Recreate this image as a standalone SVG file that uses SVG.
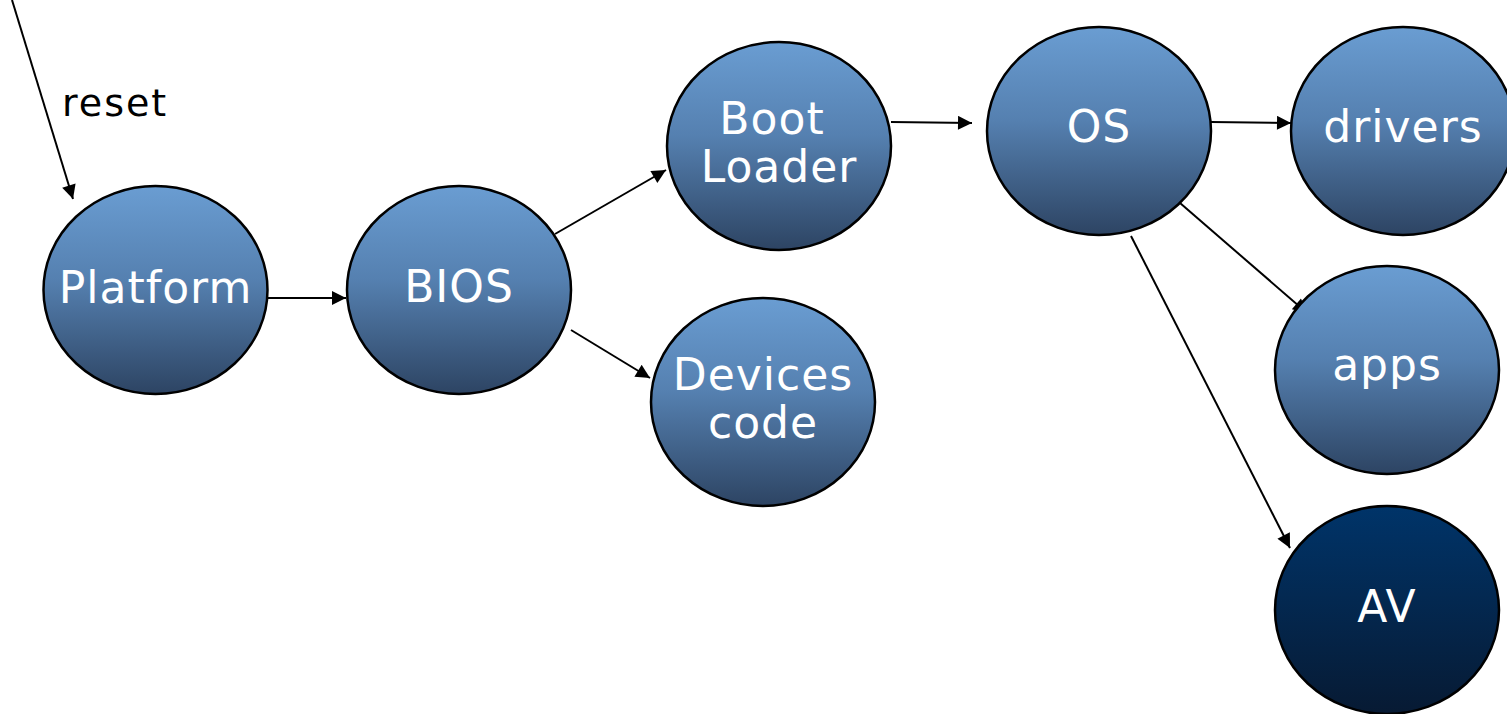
<svg xmlns="http://www.w3.org/2000/svg" width="1507" height="714" viewBox="0 0 1507 714">
  <style>
    .node { stroke: #000; stroke-width: 2.5; }
    .std { fill: url(#blueGrad); }
    .dark { fill: url(#darkGrad); }
    .label { font-family: "Comic Sans MS", "DejaVu Sans", sans-serif; font-size: 44px; letter-spacing: 1px; fill: #fff; text-anchor: middle; }
    .edge { stroke: #000; stroke-width: 2; fill: none; marker-end: url(#arrow); }
    .caption { font-family: "Comic Sans MS", "DejaVu Sans", sans-serif; font-size: 38px; letter-spacing: 2px; fill: #000; }
  </style>
  <defs>
    <linearGradient id="blueGrad" x1="0" y1="0" x2="0" y2="1">
      <stop offset="0" stop-color="#6a9dd2"/>
      <stop offset="0.45" stop-color="#5580b0"/>
      <stop offset="1" stop-color="#2d4463"/>
    </linearGradient>
    <linearGradient id="darkGrad" x1="0" y1="0" x2="0" y2="1">
      <stop offset="0" stop-color="#003469"/>
      <stop offset="1" stop-color="#071a33"/>
    </linearGradient>
    <marker id="arrow" viewBox="0 0 10 10" refX="10" refY="5" markerWidth="8" markerHeight="7" markerUnits="strokeWidth" orient="auto">
      <path d="M0,0 L10,5 L0,10 z" fill="#000"/>
    </marker>
  </defs>

  <!-- connectors -->
  <g id="connectors">
    <line class="edge" x1="12" y1="0" x2="73" y2="199"/>
    <line class="edge" x1="268" y1="298" x2="346" y2="298"/>
    <line class="edge" x1="555" y1="234" x2="666" y2="170"/>
    <line class="edge" x1="571" y1="330" x2="650" y2="378"/>
    <line class="edge" x1="891" y1="122" x2="972" y2="123"/>
    <line class="edge" x1="1211" y1="122" x2="1291" y2="123"/>
    <line class="edge" x1="1180" y1="203" x2="1307" y2="313"/>
    <line class="edge" x1="1131" y1="236" x2="1290" y2="548"/>
  </g>

  <text class="caption" x="62" y="116">reset</text>

  <g id="platform">
    <ellipse class="node std" cx="155.5" cy="290" rx="112" ry="104"/>
    <text class="label" x="155.5" y="303">Platform</text>
  </g>
  <g id="bios">
    <ellipse class="node std" cx="459" cy="290" rx="112" ry="104"/>
    <text class="label" x="459" y="302">BIOS</text>
  </g>
  <g id="bootloader">
    <ellipse class="node std" cx="779" cy="146" rx="112" ry="104"/>
    <text class="label" x="772" y="134">Boot</text>
    <text class="label" x="779" y="182">Loader</text>
  </g>
  <g id="devices">
    <ellipse class="node std" cx="763" cy="402" rx="112" ry="104"/>
    <text class="label" x="763" y="390">Devices</text>
    <text class="label" x="763" y="438">code</text>
  </g>
  <g id="os">
    <ellipse class="node std" cx="1099" cy="131" rx="112" ry="104"/>
    <text class="label" x="1099" y="142">OS</text>
  </g>
  <g id="drivers">
    <ellipse class="node std" cx="1403" cy="131" rx="112" ry="104"/>
    <text class="label" x="1403" y="142">drivers</text>
  </g>
  <g id="apps">
    <ellipse class="node std" cx="1387" cy="370" rx="112" ry="104"/>
    <text class="label" x="1387" y="380">apps</text>
  </g>
  <g id="av">
    <ellipse class="node dark" cx="1387" cy="610" rx="112" ry="104"/>
    <text class="label" x="1387" y="622">AV</text>
  </g>
</svg>
